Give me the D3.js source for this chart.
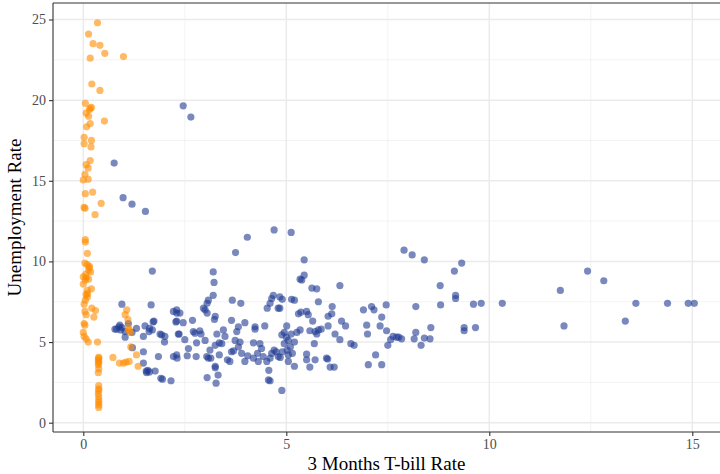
<!DOCTYPE html>
<html>
<head>
<meta charset="utf-8">
<script src="https://cdn.jsdelivr.net/npm/d3@7"></script>
<style>
  body { margin: 0; background: #fff; }
  svg { display: block; font-family: "Liberation Serif", "DejaVu Serif", serif; }
</style>
</head>
<body>
<svg id="chart" width="720" height="474"></svg>
<script>
// x = 3 month T-bill rate, y = unemployment rate
const lowRatePoints = [
  [0.35,24.8],[0.13,24.1],[0.24,23.5],[0.41,23.4],[0.53,22.9],[0.99,22.7],[0.17,22.6],[0.21,21.0],[0.41,20.6],
  [0.05,19.8],[0.17,19.5],[0.15,19.4],[0.2,19.55],[0.07,19.2],[0.13,19.0],[0.52,18.7],[0.17,18.55],[0.08,18.35],
  [0.02,17.7],[0.2,17.5],[0.02,17.3],[0.19,17.1],[0.17,16.25],[0.07,16.0],[0.12,15.8],[0.04,15.4],[0.12,15.1],
  [0.0,15.05],[0.23,14.3],[0.05,14.2],[0.44,13.6],[0.02,13.35],[0.04,13.3],[0.29,12.9],[0.05,11.35],[0.05,11.2],
  [0.1,10.5],[0.04,9.9],[0.1,9.8],[0.15,9.6],[0.13,9.45],[0.18,9.35],[0.0,9.05],[0.07,9.0],[0.13,8.9],[0.05,8.85],
  [0.0,8.6],[0.2,8.3],[0.1,8.2],[0.07,7.95],[0.1,7.8],[0.05,7.6],[0.02,7.35],[0.21,7.1],[0.3,6.95],[0.04,6.9],
  [0.07,6.7],[0.26,6.55],[0.02,6.15],[0.04,6.05],[0.0,5.6],[0.02,5.35],[0.07,5.2],[0.12,5.0],[0.35,5.0],
  [0.38,4.0],[0.37,3.9],[0.38,3.7],[0.37,3.6],[0.37,3.1],[0.38,2.3],[0.38,2.0],[0.37,1.8],[0.38,1.4],[0.38,1.25],
  [0.38,1.1],[0.38,0.95],[0.73,4.05],[0.89,3.7],[0.99,3.7],[1.05,3.75],[1.13,3.8],[1.31,4.2],[1.35,3.5],
  [1.07,7.0],[1.03,6.7],[1.1,6.4],[1.13,5.75],[1.15,5.6],[1.17,4.7],[1.11,5.9],[0.38,3.8],[0.38,4.05],[0.38,3.35],
  [0.38,2.1],[0.38,1.6],[0.1,8.0],[0.06,9.2],[0.15,9.7]
];

const otherPoints = [
  [0.76,16.1],[0.98,13.95],[1.2,13.55],[1.53,13.1],[2.46,19.65],[2.65,18.95],[4.7,11.95],[5.12,11.8],[4.04,11.5],
  [3.75,10.55],[5.44,10.1],[1.7,9.4],[3.2,9.35],[5.44,9.15],[5.34,8.9],[3.22,8.7],[5.63,8.35],[5.75,8.3],[6.32,8.5],
  [7.9,10.7],[8.1,10.4],[8.4,10.1],[9.32,9.9],[9.14,9.4],[8.79,8.5],[9.17,7.9],[9.17,7.7],[8.8,7.3],[8.19,7.2],
  [7.46,7.3],[7.1,7.2],[6.9,7.0],[7.16,7.0],[7.35,6.55],[6.98,6.05],[7.31,6.0],[7.47,5.7],[7.0,5.5],[7.63,5.35],
  [7.72,5.3],[7.77,5.3],[7.84,5.2],[7.57,5.15],[7.5,4.8],[8.15,5.2],[8.19,5.6],[8.4,5.25],[8.54,5.2],[8.32,4.8],
  [8.56,5.9],[9.38,5.9],[9.38,5.7],[9.66,5.9],[9.61,7.35],[9.8,7.4],[10.32,7.4],[7.2,4.2],[7.02,3.6],[7.35,3.6],
  [11.75,8.2],[12.42,9.4],[12.82,8.8],[11.84,6.0],[13.61,7.4],[13.35,6.3],[14.39,7.4],[14.9,7.4],[15.05,7.4],
  [0.95,7.35],[1.67,7.3],[1.72,6.25],[2.22,6.9],[0.9,6.05],[0.82,5.8],[0.95,5.9],[1.03,5.65],[1.11,6.15],
  [1.31,5.85],[1.52,6.0],[1.62,5.65],[1.7,5.75],[1.93,5.45],[2.01,5.35],[2.0,5.0],[1.48,5.35],[1.03,5.3],
  [1.48,4.4],[1.85,4.1],[1.48,3.7],[1.59,3.25],[1.55,3.2],[1.63,3.15],[1.77,3.2],[1.91,2.75],[1.95,2.7],
  [2.16,2.6],[2.22,4.1],[0.78,5.8],[0.88,5.95],[0.92,5.75],[1.21,4.65],[1.2,5.6],[1.63,5.85],[1.74,6.3],
  [1.89,5.5],[2.3,7.0],[2.3,6.8],[2.3,6.3],[2.34,5.5],[2.3,4.2],[2.31,4.0],[1.56,3.1],
  [3.2,7.9],[3.08,7.6],[3.05,7.4],[2.96,7.1],[3.0,7.0],[3.05,6.8],[3.25,6.6],[3.23,6.4],[3.67,7.6],[3.88,7.4],
  [2.38,6.8],[2.28,6.25],[2.46,6.2],[2.69,6.35],[2.36,5.5],[2.71,5.65],[2.75,5.55],[2.87,5.7],[2.9,5.5],
  [3.0,5.1],[2.79,4.95],[2.5,5.15],[2.59,4.6],[3.29,5.5],[3.45,5.75],[3.49,5.35],[3.41,4.9],[3.35,4.95],
  [3.25,4.8],[3.12,4.5],[3.08,4.0],[3.65,6.35],[3.82,5.95],[3.98,6.2],[3.78,5.65],[3.74,5.1],[3.86,5.0],
  [3.82,4.7],[3.65,4.4],[3.61,3.8],[3.9,4.3],[3.98,3.8],[4.05,4.15],[4.19,4.0],[4.23,5.95],[4.23,5.8],
  [4.19,4.95],[4.47,6.0],[4.35,4.9],[4.39,4.6],[4.29,4.3],[4.31,3.8],[4.43,4.1],[4.52,3.8],[4.6,4.0],
  [4.64,4.3],[4.7,4.5],[4.75,4.4],[4.8,4.1],[4.57,3.25],[4.56,2.65],[4.6,2.6],[4.64,7.7],[4.6,7.4],[4.68,7.9],
  [4.53,7.1],[4.8,7.1],[2.56,4.15],[2.78,4.1],[3.04,4.1],[3.14,4.0],[3.25,3.5],[3.25,3.4],[3.32,2.95],
  [3.05,2.8],[3.27,2.45],[3.35,4.2],[3.55,3.9],[3.7,4.45],
  [5.38,8.85],[5.79,7.5],[4.84,7.8],[4.9,7.65],[5.13,7.65],[5.2,7.6],[4.84,7.1],[5.36,6.85],[5.5,6.9],
  [5.54,6.7],[5.3,6.75],[5.65,6.3],[6.03,6.6],[6.12,6.75],[6.13,7.2],[6.36,6.3],[6.46,6.0],[6.03,6.0],
  [5.58,5.7],[5.71,5.65],[5.79,5.75],[5.86,5.8],[5.75,5.5],[6.2,5.5],[6.32,5.15],[6.59,4.9],[6.67,4.8],
  [5.69,4.9],[5.26,5.6],[5.34,5.75],[5.01,6.0],[4.89,5.45],[5.0,5.3],[5.05,5.1],[4.95,4.9],[5.1,4.7],
  [5.02,4.5],[4.9,4.4],[5.15,4.3],[5.05,4.2],[4.85,4.05],[5.12,5.5],[5.2,5.0],[4.95,5.6],[5.5,4.25],
  [5.5,3.9],[5.58,3.45],[5.71,3.9],[5.99,4.0],[6.02,3.95],[6.08,3.45],[6.18,3.45],[5.2,3.5],[5.05,3.8],[4.89,2.0]
];

const xTicks = [0, 5, 10, 15];
const yTicks = [0, 5, 10, 15, 20, 25];
const xMinor = [2.5, 7.5, 12.5];
const yMinor = [2.5, 7.5, 12.5, 17.5, 22.5];

const svg = d3.select('#chart');
const panel = {left: 53, right: 720, top: 3, bottom: 432};

const x = d3.scaleLinear().domain([0, 15]).range([83.3, 692.3]);
const y = d3.scaleLinear().domain([0, 25]).range([422.7, 19.5]);

// grid
const grid = svg.append('g').attr('class', 'grid');
grid.selectAll('.xminor').data(xMinor).enter().append('line')
    .attr('x1', d => x(d)).attr('x2', d => x(d))
    .attr('y1', panel.top).attr('y2', panel.bottom)
    .attr('stroke', '#f0f0f0').attr('stroke-width', 0.8);
grid.selectAll('.yminor').data(yMinor).enter().append('line')
    .attr('y1', d => y(d)).attr('y2', d => y(d))
    .attr('x1', panel.left).attr('x2', panel.right)
    .attr('stroke', '#f0f0f0').attr('stroke-width', 0.8);
grid.selectAll('.xmajor').data(xTicks).enter().append('line')
    .attr('x1', d => x(d)).attr('x2', d => x(d))
    .attr('y1', panel.top).attr('y2', panel.bottom)
    .attr('stroke', '#ebebeb').attr('stroke-width', 1.5);
grid.selectAll('.ymajor').data(yTicks).enter().append('line')
    .attr('y1', d => y(d)).attr('y2', d => y(d))
    .attr('x1', panel.left).attr('x2', panel.right)
    .attr('stroke', '#ebebeb').attr('stroke-width', 1.5);

// points
svg.append('g').selectAll('circle')
    .data(otherPoints).enter().append('circle')
    .attr('cx', d => x(d[0])).attr('cy', d => y(d[1]))
    .attr('r', 3.6)
    .attr('fill', '#1f3a93').attr('fill-opacity', 0.6);

svg.append('g').selectAll('circle')
    .data(lowRatePoints).enter().append('circle')
    .attr('cx', d => x(d[0])).attr('cy', d => y(d[1]))
    .attr('r', 3.6)
    .attr('fill', '#ff8c00').attr('fill-opacity', 0.6);

// axes
const xAxis = svg.append('g')
    .attr('transform', `translate(0,${panel.bottom})`)
    .call(d3.axisBottom(x).tickValues(xTicks).tickSize(4).tickPadding(3).tickFormat(d3.format('d')));
const yAxis = svg.append('g')
    .attr('transform', `translate(${panel.left},0)`)
    .call(d3.axisLeft(y).tickValues(yTicks).tickSize(4).tickPadding(3).tickFormat(d3.format('d')));

[xAxis, yAxis].forEach(a => {
    a.select('.domain').remove();
    a.selectAll('.tick line').attr('stroke', '#333').attr('stroke-width', 1.1);
    a.selectAll('.tick text').attr('fill', '#4d4d4d').style('font-size', '14px')
        .style('font-family', '"Liberation Serif", serif');
});

// panel border lines (top, left, bottom)
svg.append('line').attr('x1', panel.left).attr('x2', panel.right)
    .attr('y1', panel.top).attr('y2', panel.top).attr('stroke', '#333').attr('stroke-width', 1.1);
svg.append('line').attr('x1', panel.left).attr('x2', panel.right)
    .attr('y1', panel.bottom).attr('y2', panel.bottom).attr('stroke', '#333').attr('stroke-width', 1.1);
svg.append('line').attr('x1', panel.left).attr('x2', panel.left)
    .attr('y1', panel.top).attr('y2', panel.bottom).attr('stroke', '#333').attr('stroke-width', 1.1);

// titles
svg.append('text')
    .attr('x', (panel.left + panel.right) / 2).attr('y', 470)
    .attr('text-anchor', 'middle').style('font-size', '19px').attr('fill', '#000')
    .text('3 Months T-bill Rate');
svg.append('text')
    .attr('transform', `translate(21,${(panel.top + panel.bottom) / 2}) rotate(-90)`)
    .attr('text-anchor', 'middle').style('font-size', '19px').attr('fill', '#000')
    .text('Unemployment Rate');
</script>
</body>
</html>
